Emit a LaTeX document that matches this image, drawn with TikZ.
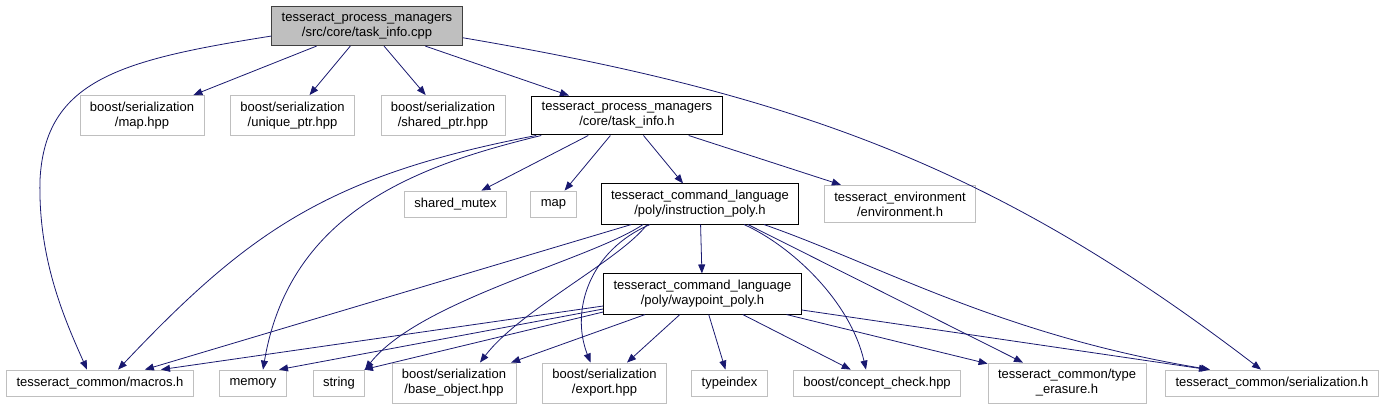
\documentclass[tikz,border=0pt]{standalone}
\usepackage{fontspec}
\setmainfont{Liberation Sans}
\usetikzlibrary{arrows.meta}
\definecolor{edgeblue}{HTML}{191970}
\definecolor{boxgray}{HTML}{BFBFBF}
\definecolor{rootline}{HTML}{404040}
\tikzset{
  file/.style={draw=boxgray,fill=white,line width=0.8pt,align=center,inner xsep=10pt,
    inner ysep=6.5pt,minimum height=26pt,font=\fontsize{13}{15}\selectfont},
  localfile/.style={file,draw=black,line width=1pt},
  rootfile/.style={file,draw=rootline,fill=boxgray,line width=1pt},
  dep/.style={-{Triangle[length=9pt,width=7pt]},draw=edgeblue,line width=0.8pt}
}

\begin{document}
\begin{tikzpicture}[x=1pt,y=-1pt]
    \useasboundingbox[fill=white] (0,0) rectangle (1393,409);
    % top two rows
    \node[rootfile] (root) at (367,26) {tesseract\_process\_managers\\/src/core/task\_info.cpp};
    \node[file] (maphpp) at (142,115.5) {boost/serialization\\/map.hpp};
    \node[file] (uniqueptr) at (292.5,115.5) {boost/serialization\\/unique\_ptr.hpp};
    \node[file] (sharedptr) at (443,115.5) {boost/serialization\\/shared\_ptr.hpp};
    \node[localfile] (taskinfo) at (627,115.5) {tesseract\_process\_managers\\/core/task\_info.h};
    \node[file] (sharedmutex) at (455.5,204) {shared\_mutex};
    \node[file] (stdmap) at (553.5,204) {map};
    \node[localfile] (instrpoly) at (700,204) {tesseract\_command\_language\\/poly/instruction\_poly.h};
    \node[file] (environment) at (900,204) {tesseract\_environment\\/environment.h};
    \node[localfile] (waypointpoly) at (702.5,294) {tesseract\_command\_language\\/poly/waypoint\_poly.h};
    % bottom row
    \node[file] (macros) at (100,383) {tesseract\_common/macros.h};
    \node[file] (memory) at (253,383) {memory};
    \node[file] (string) at (339,383) {string};
    \node[file] (baseobject) at (454,383) {boost/serialization\\/base\_object.hpp};
    \node[file] (export) at (604.5,383) {boost/serialization\\/export.hpp};
    \node[file] (typeindex) at (729.5,383) {typeindex};
    \node[file] (conceptcheck) at (877,383) {boost/concept\_check.hpp};
    \node[file] (typeerasure) at (1067,383) {tesseract\_common/type\\\_erasure.h};
    \node[file] (serialization) at (1272,383) {tesseract\_common/serialization.h};

    % includes of the source file
    \draw[dep] (root.186) .. controls (120,60) and (45,80) .. (40,180)
      .. controls (38,260) and (65,320) .. ([xshift=-13pt]macros.north);
    \draw[dep] (root) -- (maphpp);
    \draw[dep] (root) -- (uniqueptr);
    \draw[dep] (root) -- (sharedptr);
    \draw[dep] (root) -- (taskinfo);
    \draw[dep] (root.353) .. controls (800,95) and (1000,170) .. ([xshift=-11pt]serialization.north);

    % task_info.h
    \draw[dep] ([xshift=5pt]taskinfo.south west) .. controls (330,175) and (250,230) .. ([xshift=18pt]macros.north);
    \draw[dep] ([xshift=10pt]taskinfo.south west) .. controls (420,165) and (290,210) .. ([xshift=10pt]memory.north);
    \draw[dep] (taskinfo) -- (sharedmutex);
    \draw[dep] (taskinfo) -- (stdmap);
    \draw[dep] (taskinfo) -- (instrpoly);
    \draw[dep] (taskinfo) -- (environment);

    % instruction_poly.h
    \draw[dep] (instrpoly) -- (waypointpoly);
    \draw[dep] (instrpoly) -- (macros);
    \draw[dep] ([xshift=-57pt]instrpoly.south) .. controls (590,260) and (420,300) .. ([xshift=26pt]string.north);
    \draw[dep] ([xshift=-53pt]instrpoly.south) .. controls (620,260) and (520,310) .. ([xshift=26pt]baseobject.north);
    \draw[dep] ([xshift=-50pt]instrpoly.south) .. controls (590,250) and (570,310) .. ([xshift=-14pt]export.north);
    \draw[dep] ([xshift=44pt]instrpoly.south) .. controls (790,245) and (850,300) .. ([xshift=-11pt]conceptcheck.north);
    \draw[dep] ([xshift=48pt]instrpoly.south) -- ([xshift=-44pt]typeerasure.north);
    \draw[dep] ([xshift=64pt]instrpoly.south) .. controls (880,265) and (1000,335) .. ([xshift=-62pt]serialization.north);

    % waypoint_poly.h
    \draw[dep] ([yshift=-12pt]waypointpoly.west) -- ([xshift=61pt]macros.north);
    \draw[dep] ([yshift=-15pt]waypointpoly.west) -- ([xshift=26pt]memory.north);
    \draw[dep] ([yshift=-18pt]waypointpoly.west) -- ([xshift=25pt]string.north);
    \draw[dep] (waypointpoly) -- (baseobject);
    \draw[dep] (waypointpoly) -- (export);
    \draw[dep] (waypointpoly) -- (typeindex);
    \draw[dep] (waypointpoly) -- (conceptcheck);
    \draw[dep] (waypointpoly) -- (typeerasure);
    \draw[dep] ([yshift=-16pt]waypointpoly.east) -- ([xshift=-64pt]serialization.north);
  \end{tikzpicture}
\end{document}
